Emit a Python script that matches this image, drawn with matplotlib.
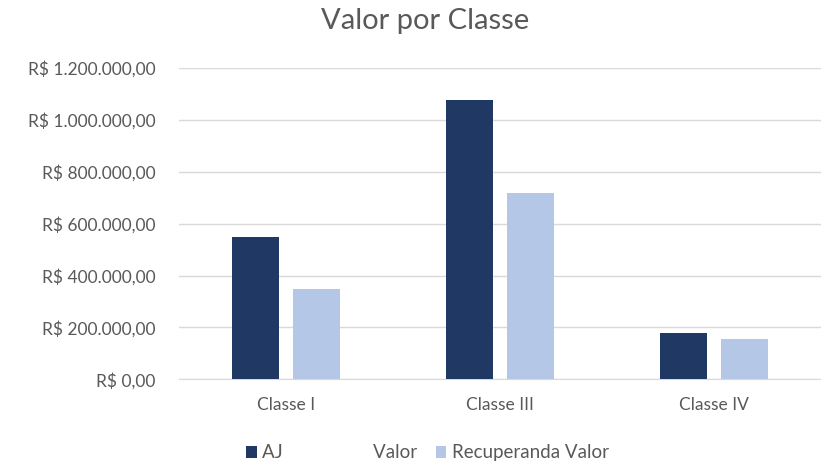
import matplotlib
matplotlib.use("Agg")
import matplotlib.pyplot as plt
import numpy as np
from matplotlib.ticker import FuncFormatter

categories = ["Classe I", "Classe III", "Classe IV"]
aj_valor = [548000, 1078000, 177000]
recuperanda_valor = [347000, 718000, 154000]
series_labels = ["AJ                   Valor", "Recuperanda Valor"]

plt.rcParams['font.family'] = ['Lato', 'DejaVu Sans']
text_color = "#595959"

fig = plt.figure(figsize=(8.21, 4.67), dpi=100)
ax = fig.add_axes([0.218, 0.188, 0.782, 0.666])

x = np.arange(len(categories))
w = 0.222
off = 0.1435
b1 = ax.bar(x - off, aj_valor, w, color="#1F3864", label=series_labels[0], zorder=3)
b2 = ax.bar(x + off, recuperanda_valor, w, color="#B4C7E7", label=series_labels[1], zorder=3)

ax.set_xlim(-0.5, 2.5)
ax.set_ylim(0, 1200000)
ax.set_yticks(np.arange(0, 1200001, 200000))

def fmt(v, pos):
    s = f"{int(round(v)):,}".replace(",", ".")
    return f"R$ {s},00"
ax.yaxis.set_major_formatter(FuncFormatter(fmt))
ax.set_xticks(x)
ax.set_xticklabels(categories)

ax.grid(axis="y", color="#D9D9D9", linewidth=1, zorder=0)
for s in ["top", "right", "left"]:
    ax.spines[s].set_visible(False)
ax.spines["bottom"].set_color("#D9D9D9")
ax.tick_params(axis="both", length=0, colors=text_color, labelsize=12.5)
ax.tick_params(axis="y", pad=17)
ax.tick_params(axis="x", pad=13)

fig.text(0.518, 0.955, "Valor por Classe", ha="center", va="center",
         fontsize=21, color=text_color)

leg = fig.legend(handles=[b1, b2], labels=series_labels, loc="center",
                 bbox_to_anchor=(0.521, 0.03), ncol=2, frameon=False,
                 fontsize=13.5, handlelength=0.55, handleheight=0.55,
                 handletextpad=0.3, columnspacing=1.0, labelcolor=text_color)

fig.savefig("out.png", dpi=100)
